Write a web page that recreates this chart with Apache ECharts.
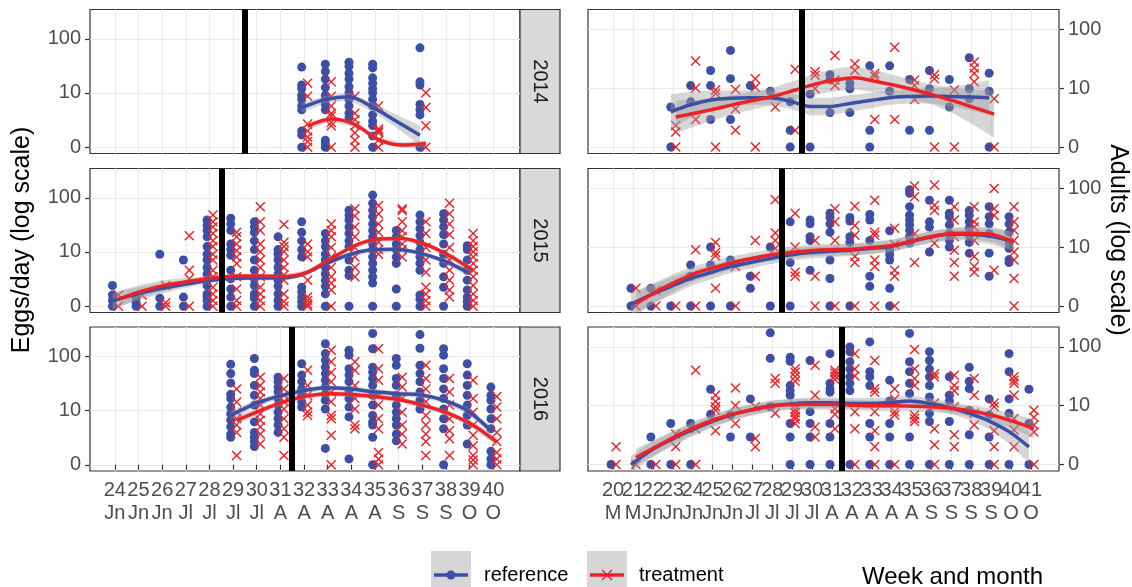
<!DOCTYPE html>
<html>
<head>
<meta charset="utf-8">
<script src="https://cdn.jsdelivr.net/npm/echarts@6/dist/echarts.min.js"></script>
<style>
  html, body { margin: 0; padding: 0; background: #fff; }
  #chart { width: 1132px; height: 587px; }
</style>
</head>
<body>
<div id="chart"></div>
<script>
// ---- data ----
var years = ['2014', '2015', '2016'];
var cutWeeks = [29.5, 28.5, 31.5];   // black vertical line, per year
var weeksLeft = [24, 25, 26, 27, 28, 29, 30, 31, 32, 33, 34, 35, 36, 37, 38, 39, 40];
var monthsLeft = ['Jn', 'Jn', 'Jn', 'Jl', 'Jl', 'Jl', 'Jl', 'A', 'A', 'A', 'A', 'A', 'S', 'S', 'S', 'O', 'O'];
var weeksRight = [20, 21, 22, 23, 24, 25, 26, 27, 28, 29, 30, 31, 32, 33, 34, 35, 36, 37, 38, 39, 40, 41];
var monthsRight = ['M', 'M', 'Jn', 'Jn', 'Jn', 'Jn', 'Jn', 'Jl', 'Jl', 'Jl', 'Jl', 'A', 'A', 'A', 'A', 'A', 'S', 'S', 'S', 'S', 'O', 'O'];
var yTicks = [0, 10, 100];

// points are counts; the smoother and its band are positions on the log axis (0 -> 0, 1 -> 10, 2 -> 100)
// eggs/day 2014
var eggs2014Weeks = [32, 33, 34, 35, 37];
var eggs2014Ref = [
  [30, 14, 12, 9, 7.5, 5.6, 4.7, 1.5, 1.1, 0],
  [34, 25, 18, 12.5, 9, 7.5, 6, 4.7, 0.6, 0.3, 0],
  [37, 31, 23, 18, 13, 10, 7.5, 5.6, 4, 3.2],
  [34, 29, 19, 15, 12, 10, 7.5, 5.6, 3.7, 2.7, 2.1, 1, 0],
  [68, 16, 14, 6, 4.7, 3.7, 0]
];
var eggs2014Trt = [
  [15, 8.6, 2.3, 1.5, 0.9, 0.5, 0],
  [16, 8.6, 5.6, 4, 3.5, 2.5, 2.1, 0],
  [8.6, 4, 2.9, 2.1, 1.3, 0.6, 0],
  [5.6, 1.7, 1.5, 1.3, 0.6, 0],
  [10, 5.2, 2.1, 0]
];
var eggs2014FitWeeks = [32, 33, 34, 35, 36, 37];
var eggs2014RefFit = [0.73, 0.88, 0.93, 0.74, 0.48, 0.22];
var eggs2014RefSe = [0.09, 0.07, 0.07, 0.08, 0.12, 0.18];
var eggs2014TrtFit = [0.39, 0.52, 0.42, 0.14, 0.04, 0.07];
var eggs2014TrtSe = [0.06, 0.05, 0.05, 0.05, 0.05, 0.06];

// eggs/day 2015
var eggs2015Weeks = [24, 25, 26, 27, 28, 29, 30, 31, 32, 33, 34, 35, 36, 37, 38, 39];
var eggs2015Ref = [
  [2, 1, 0.5, 0],
  [0.7, 0.3, 0],
  [9, 0.7, 0],
  [7, 0.8, 0],
  [39, 31, 25, 19, 12.5, 9, 7, 5, 3.7, 2.7, 2, 1.1, 0.8, 0.5, 0],
  [42, 33, 25, 14, 11, 8.6, 4.4, 2.9, 1.6, 0.8, 0],
  [36, 29, 23, 16, 11, 7, 4.4, 2.9, 2, 1.1, 0.7, 0],
  [19, 11, 9, 7, 5, 3.7, 2.7, 1.9, 1.1, 0.5, 0],
  [36, 23, 16, 11, 8, 1.8, 1.3, 0.8, 0.4, 0],
  [22, 16, 12.5, 9, 7, 5, 3.7, 2.7, 1.9, 1.1, 0],
  [59, 48, 39, 29, 22, 16, 12.5, 7, 4.4, 3.4, 0],
  [112, 79, 59, 45, 33, 25, 19, 14, 11, 8, 6, 4.4, 3.2, 2.3, 0],
  [25, 19, 14, 11, 8, 6, 1.6, 0],
  [48, 36, 27, 20, 15, 11, 8, 6, 4.4, 1, 0.6, 0],
  [51, 39, 29, 21, 14, 9, 6, 3.2, 1.8, 0],
  [13, 11, 7, 4.4, 2.7, 1.5, 0.8, 0.4, 0]
];
var eggs2015Trt = [
  [1, 0],
  [1, 0],
  [2, 0.3, 0],
  [20, 4.4, 2.9, 0],
  [48, 36, 29, 22, 16, 12.5, 9, 7, 4.4, 3.2, 1.8, 1.1, 0.5, 0],
  [23, 19, 14, 10.6, 8, 6, 3.2, 1.6, 0.5, 0],
  [68, 36, 25, 14, 10, 7, 5, 3.2, 1.8, 1.1, 0.5, 0],
  [32, 15, 12.5, 10, 7, 5, 3.5, 2.7, 1.1, 0.4, 0],
  [14, 10, 8, 2.7, 0.8, 0.5, 0.2, 0],
  [33, 25, 19, 12, 8, 5, 3.2, 2.3, 1.5, 0],
  [63, 46, 29, 19, 12, 8, 5, 3.2],
  [72, 50, 33, 23, 15, 11, 9],
  [63, 58, 36, 25, 19, 14, 11, 8],
  [36, 22, 12, 7, 4, 1.8, 1.1, 0.5, 0],
  [79, 51, 33, 21, 12, 7, 4.4, 2.7, 1.5, 0.8],
  [22, 16, 12.5, 10, 8, 6, 4.4, 3.2, 2, 1.1, 0.5, 0]
];
var eggs2015FitWeeks = eggs2015Weeks;
var eggs2015RefFit = [0.10, 0.22, 0.32, 0.40, 0.47, 0.51, 0.52, 0.52, 0.58, 0.78, 0.95, 1.04, 1.05, 0.98, 0.84, 0.63];
var eggs2015RefSe = [0.15, 0.12, 0.10, 0.07, 0.05, 0.04, 0.04, 0.04, 0.04, 0.04, 0.04, 0.04, 0.04, 0.04, 0.05, 0.07];
var eggs2015TrtFit = [0.13, 0.28, 0.39, 0.46, 0.52, 0.56, 0.56, 0.55, 0.63, 0.88, 1.12, 1.24, 1.25, 1.14, 0.93, 0.66];
var eggs2015TrtSe = [0.15, 0.12, 0.10, 0.07, 0.05, 0.04, 0.04, 0.04, 0.04, 0.04, 0.04, 0.04, 0.04, 0.04, 0.05, 0.07];

// eggs/day 2016
var eggs2016Weeks = [29, 30, 31, 32, 33, 34, 35, 36, 37, 38, 39, 40];
var eggs2016Ref = [
  [71, 48, 32, 20, 16.6, 11.5, 8.6, 6.5, 4.8, 3.4, 2.9],
  [91, 55, 48, 29, 19, 12.5, 6, 3.7, 2.9, 2.3, 1.7],
  [41, 34, 27, 22, 16.6, 12.5, 9.2, 6.9, 5.2, 3.7],
  [73, 45, 34, 25, 19, 14.4, 11.5],
  [170, 112, 85, 63, 48, 36, 27, 20, 15.4, 10.6, 1.5],
  [129, 105, 59, 45, 34, 23.4, 16.6, 11.5, 7.5, 0.5],
  [263, 138, 63, 51, 39, 29, 19, 12.5, 8, 6, 5.2, 2.9, 0],
  [91, 68, 39, 29, 19, 12.5, 9.2, 6.9, 5.2, 3.4, 2.4],
  [251, 141, 68, 48, 34, 22, 15.4, 10.6],
  [138, 105, 59, 39, 25, 16.6, 10.6, 6.9, 4.4, 0],
  [73, 45, 29, 19, 12.5, 8, 5.2, 2],
  [27, 19, 15.4, 10.6, 6.9, 4.4, 1.2, 0.5, 0]
];
var eggs2016Trt = [
  [25, 14.3, 9.3, 6.9, 5.2, 3.7, 0.8],
  [41, 29, 22, 16.6, 12.5, 8.6, 6.5, 4.8, 3.4, 2],
  [39, 25, 19, 14.4, 10.6, 6.9, 4.4, 2.9, 0.8],
  [55, 29, 19, 12.5, 9.3, 8],
  [129, 79, 50, 34, 22, 14.4, 8, 6.9, 3.2, 0],
  [79, 55, 29, 16.6, 10.6, 5.2, 4.4],
  [138, 59, 36, 19, 12.5, 6.9, 4.4, 1.1, 0.5, 0],
  [41, 27, 16.6, 9.2, 5.2, 3.4, 2],
  [68, 39, 25, 14.4, 8, 5.2, 3.4, 2.3, 0.8],
  [39, 22, 12.5, 6.9, 4, 2.7, 0.8],
  [36, 16.6, 9.2, 5.2, 3.2, 1.8, 0.8, 0.4, 0],
  [18, 11.5, 6.9, 3.7, 2.3, 1.1, 0.5, 0]
];
var eggs2016FitWeeks = eggs2016Weeks;
var eggs2016RefFit = [0.91, 1.12, 1.26, 1.36, 1.42, 1.40, 1.35, 1.31, 1.29, 1.19, 1.00, 0.63];
var eggs2016RefSe = [0.08, 0.06, 0.05, 0.05, 0.05, 0.05, 0.05, 0.05, 0.05, 0.05, 0.06, 0.08];
var eggs2016TrtFit = [0.82, 1.00, 1.16, 1.27, 1.31, 1.29, 1.25, 1.19, 1.08, 0.94, 0.73, 0.42];
var eggs2016TrtSe = [0.08, 0.06, 0.05, 0.05, 0.05, 0.05, 0.05, 0.05, 0.05, 0.05, 0.06, 0.08];

// adults 2014
var adults2014Weeks = [23, 24, 25, 26, 27, 28, 29, 30, 31, 32, 33, 34, 35, 36, 37, 38, 39];
var adults2014Ref = [
  [4.6, 0], [11, 5.7], [20, 11, 2.6], [44, 14.5, 2.6], [11], [8.8], [5.7, 1.4, 0], [7.8, 0],
  [17, 14, 3.6], [12, 9.7, 3.6], [24, 1.4, 0], [24, 8.8], [14, 1.4], [20, 9.7, 1.4],
  [14, 4.6], [33, 9.7, 6.5], [18, 8.8, 0]
];
var adults2014Trt = [
  [1.9, 1.25, 0], [29, 10, 2.6], [9.2, 8, 0], [9.4, 4.2, 1.4], [14.5, 10.3, 0], [4.6], [21, 1.4],
  [19, 16.6, 9.7], [36, 13.7, 11], [26, 20], [17.7, 16, 2.6], [50, 2.6], [13.7, 11, 6.3],
  [17, 14.5, 0], [9.2, 0], [28, 22, 17.7, 12.8], [6.5, 0]
];
var adults2014FitWeeks = adults2014Weeks;
var adults2014RefFit = [0.60, 0.72, 0.80, 0.83, 0.84, 0.84, 0.78, 0.69, 0.69, 0.74, 0.79, 0.84, 0.86, 0.87, 0.86, 0.85, 0.84];
var adults2014RefSe = [0.30, 0.22, 0.16, 0.13, 0.12, 0.12, 0.13, 0.15, 0.15, 0.14, 0.13, 0.12, 0.12, 0.13, 0.16, 0.22, 0.30];
var adults2014TrtFit = [0.51, 0.58, 0.65, 0.73, 0.80, 0.87, 0.97, 1.07, 1.14, 1.18, 1.12, 1.05, 0.97, 0.88, 0.78, 0.67, 0.56];
var adults2014TrtSe = [0.28, 0.22, 0.18, 0.16, 0.15, 0.15, 0.16, 0.18, 0.19, 0.20, 0.19, 0.17, 0.16, 0.17, 0.22, 0.30, 0.40];

// adults 2015
var adults2015Weeks = [21, 22, 23, 24, 25, 26, 27, 28, 29, 30, 31, 32, 33, 34, 35, 36, 37, 38, 39, 40];
var adults2015Ref = [
  [1.5, 0], [1.5, 0], [0], [4.8, 2.9, 0], [10, 4.8, 0], [5.9, 0], [2.9, 1.5], [10, 0],
  [27, 5.3, 0], [29, 25, 15, 13, 3.8], [38, 32, 25, 18, 5.9, 2.6, 0], [32, 28, 15, 12, 0],
  [36, 29, 13, 2.9, 1.7], [19, 8.8, 7.3, 5.9, 1.5, 0], [95, 83, 49, 35, 29, 24, 19.5, 15, 11.7],
  [63, 27, 22, 8.2], [63, 38, 33, 24, 17, 13, 10], [42, 35, 27, 21, 16, 12, 7.8],
  [49, 33, 25, 17, 7.8, 2.9], [33, 25, 18, 12, 9.5, 6, 5.3]
];
var adults2015Trt = [
  [1.5, 0], [1.3, 0], [0], [9, 0], [12, 8, 7, 1.5], [4.5, 0], [13, 2.9], [64, 17.5, 13, 9.4],
  [38, 10, 3.5, 2.9], [13, 2.9, 0], [45, 27, 13, 0], [50, 23.5, 16, 6.8, 5.3, 0],
  [63, 18, 16, 5.9, 4.5, 0], [21, 11, 3.8, 2.9, 0], [110, 72, 17, 5.3], [115, 52, 42, 11.6],
  [49, 29, 15, 8.8, 5.3, 2.9], [49, 27, 22, 13, 6.8, 4.5, 3.5], [100, 45, 35, 3.8],
  [49, 27, 19.5, 13, 8.2, 5.9, 2.6, 0]
];
var adults2015FitWeeks = adults2015Weeks;
var adults2015RefFit = [0.03, 0.19, 0.33, 0.47, 0.57, 0.67, 0.74, 0.81, 0.87, 0.91, 0.93, 0.95, 0.98, 1.01, 1.09, 1.17, 1.22, 1.22, 1.19, 1.12];
var adults2015RefSe = [0.20, 0.17, 0.15, 0.13, 0.12, 0.11, 0.10, 0.10, 0.10, 0.10, 0.10, 0.10, 0.10, 0.10, 0.10, 0.10, 0.10, 0.11, 0.13, 0.16];
var adults2015TrtFit = [0.04, 0.24, 0.41, 0.56, 0.66, 0.75, 0.82, 0.88, 0.92, 0.95, 0.96, 0.97, 1.00, 1.04, 1.12, 1.19, 1.24, 1.24, 1.21, 1.09];
var adults2015TrtSe = [0.20, 0.17, 0.15, 0.13, 0.12, 0.11, 0.10, 0.10, 0.10, 0.10, 0.10, 0.10, 0.10, 0.10, 0.10, 0.10, 0.10, 0.11, 0.13, 0.16];

// adults 2016
var adults2016Weeks = [20, 21, 22, 23, 24, 25, 26, 27, 28, 29, 30, 31, 32, 33, 34, 35, 36, 37, 38, 39, 40, 41];
var adults2016Ref = [
  [0], [], [2.6, 0], [4.8, 0], [4.8, 0], [19, 7], [6.8, 2.6], [13, 2.6], [174, 64, 9.5],
  [67, 57, 22, 18, 15, 4.8, 2.6, 0], [59, 7.8, 4.8, 2.6, 0], [77, 24, 19.5, 17, 4.8, 2.6, 0],
  [100, 83, 56, 42, 31, 24, 18, 0], [122, 38, 31, 22, 4.8, 2.6, 0], [27, 12, 4.8, 2.6, 0],
  [170, 56, 38, 24, 16, 2.6, 0], [83, 59, 42, 31, 22, 14, 7.3, 5.2, 0], [31, 15, 12, 5.2, 0],
  [45, 26, 19.5, 8.2, 2.9, 0], [13, 6.8, 2.6, 0], [77, 38, 13, 7.3, 0], [19, 4.8, 0]
];
var adults2016Trt = [
  [1.5, 0], [0], [0], [3, 1.5, 0], [40, 3.8, 0], [15, 11.7, 9.5, 8.3, 3.5], [20, 10, 4.8],
  [9.5, 2.4, 1.5], [29, 24, 7.3], [42, 37, 31, 26, 10, 8.5, 7.5, 6.5, 5.8, 4.8],
  [49, 15, 4.1, 2.6], [40, 36, 32, 28, 8.8, 7, 3.8], [77, 42, 32, 7.8, 3.8, 0],
  [59, 19.5, 17, 7.8, 3.5, 1.5, 0], [19.5, 13, 7.8, 6.8, 0], [91, 42, 29, 22, 6.8, 5.9, 5.2],
  [35, 31, 11, 3.8, 1.7, 0], [33, 22, 18, 9.5, 2.9, 1.5], [29, 15, 7.3, 4.5],
  [11, 9.5, 3.5, 1.5, 0], [31, 27, 24, 15, 5.9, 3.6, 1.5], [8.3, 6.2, 4.5, 3.3, 0]
];
var adults2016FitWeeks = [21, 22, 23, 24, 25, 26, 27, 28, 29, 30, 31, 32, 33, 34, 35, 36, 37, 38, 39, 40, 41];
var adults2016RefFit = [0.00, 0.24, 0.42, 0.58, 0.72, 0.84, 0.93, 1.00, 1.03, 1.05, 1.05, 1.04, 1.04, 1.05, 1.08, 1.04, 0.97, 0.87, 0.74, 0.56, 0.30];
var adults2016RefSe = [0.15, 0.13, 0.12, 0.11, 0.10, 0.10, 0.09, 0.09, 0.09, 0.09, 0.09, 0.09, 0.09, 0.09, 0.09, 0.09, 0.10, 0.11, 0.14, 0.20, 0.28];
var adults2016TrtFit = [0.12, 0.30, 0.48, 0.64, 0.77, 0.87, 0.94, 1.00, 1.02, 1.02, 1.02, 1.01, 1.00, 1.00, 0.99, 0.98, 0.95, 0.90, 0.83, 0.73, 0.61];
var adults2016TrtSe = [0.15, 0.13, 0.12, 0.11, 0.10, 0.10, 0.09, 0.09, 0.09, 0.09, 0.09, 0.09, 0.09, 0.09, 0.09, 0.09, 0.09, 0.10, 0.11, 0.13, 0.16];

// ---- layout / style ----
var blue = '#3b4fa6';
var red = '#ec2227';
var font = "'Liberation Sans', Arial, sans-serif";
var panelTop = [9.5, 168.5, 327];
var panelH = 144;
var colLeft = [90, 588];
var colWidth = [430, 471];
var xRange = [[22.95, 41.13], [18.74, 42.41]];
var yRange = [[-0.115, 2.54], [-0.11, 2.34]];
var dodgeRef = -0.1, dodgeTrt = 0.15;
var crossPath = 'path://M0,1L1,0L5,4L9,0L10,1L6,5L10,9L9,10L5,6L1,10L0,9L4,5Z';

function tr(v) { return Math.asinh(v / 2) / Math.LN10; }  // pseudo-log axis

var panels = [
  {col: 0, row: 0, weeks: eggs2014Weeks, ref: eggs2014Ref, trt: eggs2014Trt, fw: eggs2014FitWeeks,
   refFit: eggs2014RefFit, refSe: eggs2014RefSe, trtFit: eggs2014TrtFit, trtSe: eggs2014TrtSe},
  {col: 0, row: 1, weeks: eggs2015Weeks, ref: eggs2015Ref, trt: eggs2015Trt, fw: eggs2015FitWeeks,
   refFit: eggs2015RefFit, refSe: eggs2015RefSe, trtFit: eggs2015TrtFit, trtSe: eggs2015TrtSe},
  {col: 0, row: 2, weeks: eggs2016Weeks, ref: eggs2016Ref, trt: eggs2016Trt, fw: eggs2016FitWeeks,
   refFit: eggs2016RefFit, refSe: eggs2016RefSe, trtFit: eggs2016TrtFit, trtSe: eggs2016TrtSe},
  {col: 1, row: 0, weeks: adults2014Weeks, ref: adults2014Ref, trt: adults2014Trt, fw: adults2014FitWeeks,
   refFit: adults2014RefFit, refSe: adults2014RefSe, trtFit: adults2014TrtFit, trtSe: adults2014TrtSe},
  {col: 1, row: 1, weeks: adults2015Weeks, ref: adults2015Ref, trt: adults2015Trt, fw: adults2015FitWeeks,
   refFit: adults2015RefFit, refSe: adults2015RefSe, trtFit: adults2015TrtFit, trtSe: adults2015TrtSe},
  {col: 1, row: 2, weeks: adults2016Weeks, ref: adults2016Ref, trt: adults2016Trt, fw: adults2016FitWeeks,
   refFit: adults2016RefFit, refSe: adults2016RefSe, trtFit: adults2016TrtFit, trtSe: adults2016TrtSe}
];

function pointsOf(weeks, groups, dx) {
  var out = [];
  for (var j = 0; j < weeks.length; j++) {
    for (var k = 0; k < groups[j].length; k++) out.push([weeks[j] + dx, tr(groups[j][k])]);
  }
  return out;
}
function fitOf(fw, fit, dx) {
  return fw.map(function (w, k) { return [w + dx, fit[k]]; });
}
function band(fw, fit, se, dx) {
  return function (params, api) {
    var pts = [], k;
    for (k = 0; k < fw.length; k++) pts.push(api.coord([fw[k] + dx, fit[k] + se[k]]));
    for (k = fw.length - 1; k >= 0; k--) pts.push(api.coord([fw[k] + dx, fit[k] - se[k]]));
    return {type: 'polygon', shape: {points: pts}, style: {fill: 'rgba(153,153,153,0.4)'}};
  };
}

var grids = [], xAxes = [], yAxes = [], series = [], graphics = [];
var yTickPos = yTicks.map(tr);

panels.forEach(function (p, i) {
  var bottom = p.row === 2;
  var weeks = p.col === 0 ? weeksLeft : weeksRight;
  var months = p.col === 0 ? monthsLeft : monthsRight;
  // blank end slots so ECharts' first/last-label overlap check never drops a week label
  var labelSlots = [weeks[0] - 1].concat(weeks, [weeks[weeks.length - 1] + 1]);
  grids.push({
    left: colLeft[p.col], top: panelTop[p.row], width: colWidth[p.col], height: panelH,
    show: true, backgroundColor: '#fff', borderColor: '#333', borderWidth: 1.2,
    containLabel: false, outerBoundsMode: 'none'
  });
  xAxes.push({
    gridIndex: i, type: 'value', min: xRange[p.col][0], max: xRange[p.col][1],
    axisLine: {show: false},
    axisTick: {show: bottom, customValues: weeks, length: 5, lineStyle: {color: '#333', width: 1.2}},
    axisLabel: {
      show: bottom, customValues: labelSlots, hideOverlap: false, showMinLabel: true, showMaxLabel: true,
      margin: 8, color: '#4d4d4d', fontSize: 20, fontFamily: font, lineHeight: 23,
      formatter: function (v) {
        var k = weeks.indexOf(v);
        return k < 0 ? '\u00a0' : weeks[k] + '\n' + months[k];
      }
    },
    splitLine: {show: true, lineStyle: {color: '#ebebeb', width: 1.2}}
  });
  yAxes.push({
    gridIndex: i, type: 'value', position: p.col === 0 ? 'left' : 'right',
    min: yRange[p.col][0], max: yRange[p.col][1],
    axisLine: {show: false},
    axisTick: {show: true, customValues: yTickPos, length: 5, lineStyle: {color: '#333', width: 1.2}},
    axisLabel: {
      customValues: yTickPos, margin: 9, color: '#4d4d4d', fontSize: 20, fontFamily: font,
      showMinLabel: true, showMaxLabel: true,
      formatter: function (v) {
        for (var k = 0; k < yTicks.length; k++) if (Math.abs(yTickPos[k] - v) < 1e-6) return String(yTicks[k]);
        return '';
      }
    },
    splitLine: {show: true, lineStyle: {color: '#ebebeb', width: 1.2}}
  });

  series.push({
    type: 'scatter', xAxisIndex: i, yAxisIndex: i, z: 2, silent: true,
    symbol: 'circle', symbolSize: 9, itemStyle: {color: blue, opacity: 1},
    data: pointsOf(p.weeks, p.ref, dodgeRef)
  });
  series.push({
    type: 'scatter', xAxisIndex: i, yAxisIndex: i, z: 2, silent: true,
    symbol: crossPath, symbolSize: 10, itemStyle: {color: red, opacity: 1},
    data: pointsOf(p.weeks, p.trt, dodgeTrt)
  });
  series.push({
    type: 'custom', xAxisIndex: i, yAxisIndex: i, z: 3, silent: true, clip: true,
    renderItem: band(p.fw, p.refFit, p.refSe, dodgeRef), data: [[p.fw[0], p.refFit[0]]]
  });
  series.push({
    type: 'custom', xAxisIndex: i, yAxisIndex: i, z: 3, silent: true, clip: true,
    renderItem: band(p.fw, p.trtFit, p.trtSe, dodgeTrt), data: [[p.fw[0], p.trtFit[0]]]
  });
  series.push({
    type: 'line', xAxisIndex: i, yAxisIndex: i, z: 4, silent: true, showSymbol: false, smooth: 0.3,
    lineStyle: {color: blue, width: 3.5}, itemStyle: {color: blue},
    data: fitOf(p.fw, p.refFit, dodgeRef)
  });
  series.push({
    type: 'line', xAxisIndex: i, yAxisIndex: i, z: 4, silent: true, showSymbol: false, smooth: 0.3,
    lineStyle: {color: red, width: 3.5}, itemStyle: {color: red},
    data: fitOf(p.fw, p.trtFit, dodgeTrt),
    markLine: {
      silent: true, symbol: ['none', 'none'], label: {show: false}, z: 10,
      lineStyle: {color: '#000', width: 6, type: 'solid'},
      data: [{xAxis: cutWeeks[p.row]}]
    }
  });

  if (p.col === 0) {
    var sx = colLeft[0] + colWidth[0];
    graphics.push({
      type: 'rect', shape: {x: sx, y: panelTop[p.row], width: 40, height: panelH},
      style: {fill: '#d9d9d9', stroke: '#333', lineWidth: 1.2}
    });
    graphics.push({
      type: 'text', x: sx + 20, y: panelTop[p.row] + panelH / 2, rotation: -Math.PI / 2,
      style: {text: years[p.row], font: '20px ' + font, fill: '#1a1a1a',
              textAlign: 'center', textVerticalAlign: 'middle', align: 'center', verticalAlign: 'middle'}
    });
  }
});

// axis titles
graphics.push({
  type: 'text', x: 22, y: 240, rotation: Math.PI / 2,
  style: {text: 'Eggs/day (log scale)', font: '25px ' + font, fill: '#000',
          textAlign: 'center', textVerticalAlign: 'middle', align: 'center', verticalAlign: 'middle'}
});
graphics.push({
  type: 'text', x: 1118, y: 240, rotation: -Math.PI / 2,
  style: {text: 'Adults (log scale)', font: '25px ' + font, fill: '#000',
          textAlign: 'center', textVerticalAlign: 'middle', align: 'center', verticalAlign: 'middle'}
});
graphics.push({
  type: 'text', x: 862, y: 577,
  style: {text: 'Week and month', font: '24px ' + font, fill: '#000',
          textAlign: 'left', textVerticalAlign: 'middle', align: 'left', verticalAlign: 'middle'}
});

// legend keys
graphics.push({type: 'rect', shape: {x: 431, y: 551, width: 40, height: 46}, style: {fill: '#d6d6d6'}});
graphics.push({type: 'line', shape: {x1: 434, y1: 575, x2: 468, y2: 575}, style: {stroke: blue, lineWidth: 3.5}});
graphics.push({type: 'circle', shape: {cx: 451, cy: 575, r: 4.5}, style: {fill: blue}});
graphics.push({
  type: 'text', x: 484, y: 575,
  style: {text: 'reference', font: '20px ' + font, fill: '#000',
          textAlign: 'left', textVerticalAlign: 'middle', align: 'left', verticalAlign: 'middle'}
});
graphics.push({type: 'rect', shape: {x: 587, y: 551, width: 40, height: 46}, style: {fill: '#d6d6d6'}});
graphics.push({type: 'line', shape: {x1: 590, y1: 575, x2: 624, y2: 575}, style: {stroke: red, lineWidth: 3.5}});
graphics.push({type: 'line', shape: {x1: 602, y1: 570, x2: 612, y2: 580}, style: {stroke: red, lineWidth: 1.4}});
graphics.push({type: 'line', shape: {x1: 612, y1: 570, x2: 602, y2: 580}, style: {stroke: red, lineWidth: 1.4}});
graphics.push({
  type: 'text', x: 639, y: 575,
  style: {text: 'treatment', font: '20px ' + font, fill: '#000',
          textAlign: 'left', textVerticalAlign: 'middle', align: 'left', verticalAlign: 'middle'}
});

var chart = echarts.init(document.getElementById('chart'), null, {renderer: 'canvas'});
chart.setOption({
  animation: false,
  backgroundColor: '#fff',
  grid: grids,
  xAxis: xAxes,
  yAxis: yAxes,
  series: series,
  graphic: graphics
});
</script>
</body>
</html>
